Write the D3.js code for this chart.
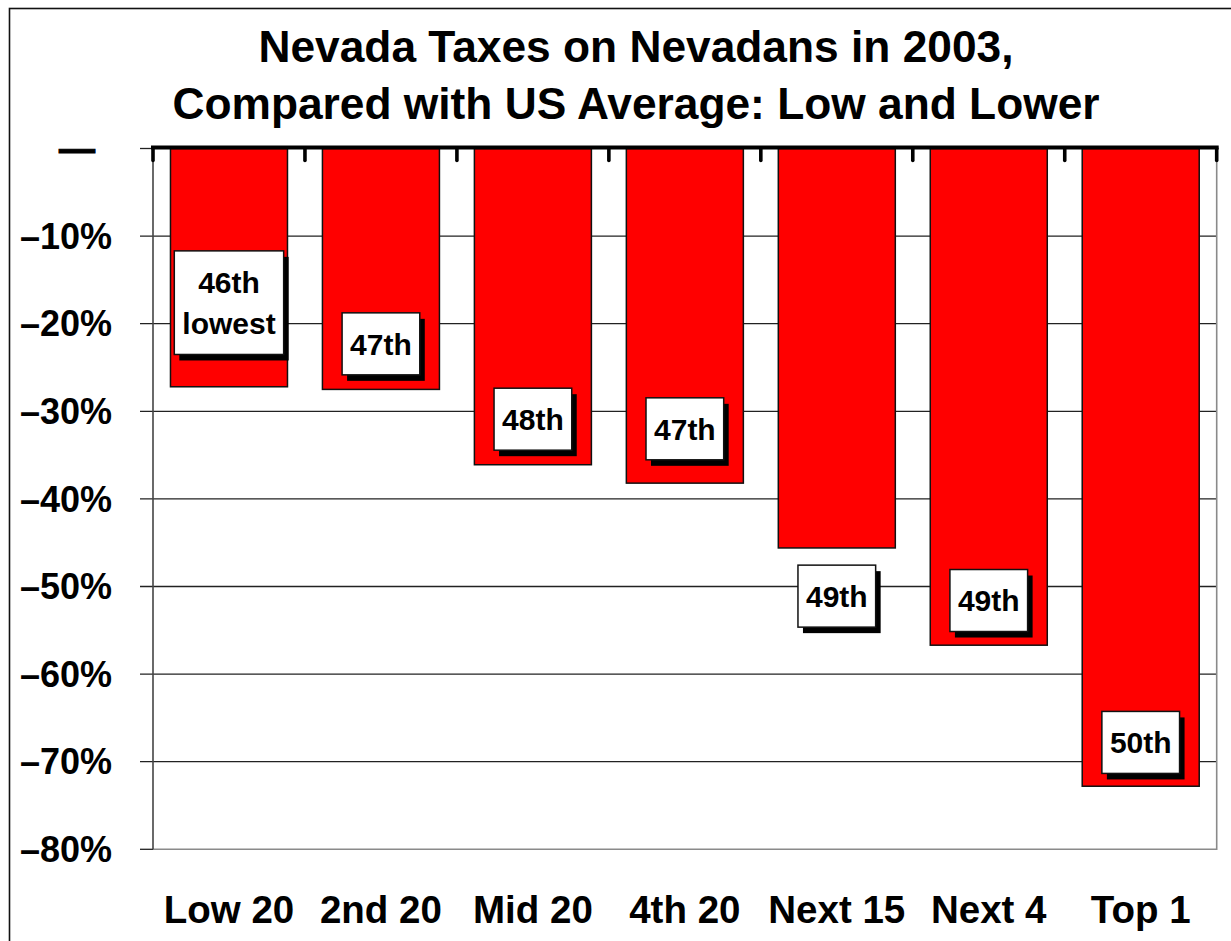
<!DOCTYPE html>
<html>
<head>
<meta charset="utf-8">
<script src="https://cdn.jsdelivr.net/npm/d3@7"></script>
<style>
  html, body { margin: 0; padding: 0; background: #fff; }
  svg { display: block; font-family: "Liberation Sans", Arial, sans-serif; }
</style>
</head>
<body>
<svg id="chart" width="1231" height="941"></svg>
<script>
// Income groups and how far Nevada's taxes on each fall below the US average (%)
const categories = ["Low 20", "2nd 20", "Mid 20", "4th 20", "Next 15", "Next 4", "Top 1"];
const values = [-27.2, -27.5, -36.1, -38.2, -45.6, -56.7, -72.8];
// State rank for each group, and where (in % units) its callout sits
const ranks = [["46th", "lowest"], ["47th"], ["48th"], ["47th"], ["49th"], ["49th"], ["50th"]];
const rankAt = [-17.6, -22.3, -30.9, -32.0, -51.1, -51.6, -67.8];
const yTicks = [0, -10, -20, -30, -40, -50, -60, -70, -80];
const titleLines = ["Nevada Taxes on Nevadans in 2003,", "Compared with US Average: Low and Lower"];

const svg = d3.select("#chart");
const plot = { left: 153, right: 1216.7, top: 148.5, bottom: 849.3 };

const x = d3.scaleBand()
  .domain(categories)
  .range([plot.left, plot.right])
  .paddingInner(0.23)
  .paddingOuter(0.115);

const y = d3.scaleLinear()
  .domain([0, -80])
  .range([plot.top, plot.bottom]);

// Outer frame
svg.append("rect")
  .attr("x", 9.5).attr("y", 8.5)
  .attr("width", 1260).attr("height", 980)
  .attr("fill", "none").attr("stroke", "#111").attr("stroke-width", 1.6);

// Title
svg.append("g").selectAll("text")
  .data(titleLines)
  .join("text")
  .attr("x", 636)
  .attr("y", (d, i) => 61.5 + i * 57)
  .attr("text-anchor", "middle")
  .attr("font-size", 44.3)
  .attr("font-weight", "bold")
  .attr("fill", "#000")
  .text(d => d);

// Gridlines with short ticks out to the left
svg.append("g").selectAll("line")
  .data(yTicks.filter(d => d !== 0 && d !== -80))
  .join("line")
  .attr("x1", plot.left - 13).attr("x2", plot.right)
  .attr("y1", d => y(d)).attr("y2", d => y(d))
  .attr("stroke", "#222").attr("stroke-width", 1.3);

// Plot area border (right and bottom in grey)
svg.append("path")
  .attr("d", `M${plot.right},${plot.top} V${plot.bottom} H${plot.left}`)
  .attr("fill", "none").attr("stroke", "#8a8a8a").attr("stroke-width", 1.6);
svg.append("line")
  .attr("x1", plot.left - 13).attr("x2", plot.left)
  .attr("y1", y(-80)).attr("y2", y(-80))
  .attr("stroke", "#222").attr("stroke-width", 1.3);
svg.append("line")
  .attr("x1", plot.left - 13).attr("x2", plot.left)
  .attr("y1", y(0)).attr("y2", y(0))
  .attr("stroke", "#222").attr("stroke-width", 1.3);
svg.append("line")
  .attr("x1", plot.left).attr("x2", plot.left)
  .attr("y1", plot.top).attr("y2", plot.bottom)
  .attr("stroke", "#444").attr("stroke-width", 1.6);

// Y-axis labels
svg.append("g").selectAll("text")
  .data(yTicks)
  .join("text")
  .attr("x", d => d === 0 ? 95 : 112)
  .attr("y", d => y(d))
  .attr("dy", "0.35em")
  .attr("text-anchor", "end")
  .attr("font-size", 36)
  .attr("font-weight", "bold")
  .attr("fill", "#000")
  .attr("stroke", d => d === 0 ? "#000" : "none")
  .attr("stroke-width", 1)
  .text(d => d === 0 ? "\u2014" : "\u2013" + Math.abs(d) + "%");

// Bars
svg.append("g").selectAll("rect")
  .data(values)
  .join("rect")
  .attr("x", (d, i) => x(categories[i]))
  .attr("y", y(0))
  .attr("width", x.bandwidth())
  .attr("height", d => y(d) - y(0))
  .attr("fill", "#ff0000")
  .attr("stroke", "#111")
  .attr("stroke-width", 1.5);

// Zero line with tick marks hanging at each category boundary
svg.append("line")
  .attr("x1", plot.left - 2).attr("x2", plot.right + 2)
  .attr("y1", y(0) - 1).attr("y2", y(0) - 1)
  .attr("stroke", "#000").attr("stroke-width", 4);
const bounds = d3.range(categories.length + 1).map(i => plot.left + i * x.step());
svg.append("g").selectAll("line")
  .data(bounds)
  .join("line")
  .attr("x1", d => d).attr("x2", d => d)
  .attr("y1", y(0)).attr("y2", y(0) + 12)
  .attr("stroke", "#000").attr("stroke-width", 3.6)
  .attr("stroke-linecap", "round");

// Category labels
svg.append("g").selectAll("text")
  .data(categories)
  .join("text")
  .attr("x", d => x(d) + x.bandwidth() / 2)
  .attr("y", 922.5)
  .attr("text-anchor", "middle")
  .attr("font-size", 38.5)
  .attr("font-weight", "bold")
  .attr("fill", "#000")
  .text(d => d);

// Rank callouts: white box with a black drop shadow
const lineGap = 41.6;
const callouts = svg.append("g").selectAll("g")
  .data(ranks)
  .join("g")
  .attr("transform", (d, i) => `translate(${x(categories[i]) + x.bandwidth() / 2},${y(rankAt[i])})`);

callouts.each(function(lines) {
  const g = d3.select(this);
  const shadow = g.append("rect").attr("fill", "#000");
  const box = g.append("rect").attr("fill", "#fff").attr("stroke", "#111").attr("stroke-width", 1.5);
  const texts = g.selectAll("text")
    .data(lines)
    .join("text")
    .attr("x", 0)
    .attr("y", (t, j) => (j - (lines.length - 1) / 2) * lineGap)
    .attr("dy", "0.36em")
    .attr("text-anchor", "middle")
    .attr("font-size", 30)
    .attr("font-weight", "bold")
    .attr("fill", "#000")
    .text(t => t);
  let w = 0;
  texts.each(function() { w = Math.max(w, this.getComputedTextLength()); });
  const bw = w + 16;
  const bh = 62 + (lines.length - 1) * lineGap;
  box.attr("x", -bw / 2).attr("y", -bh / 2).attr("width", bw).attr("height", bh);
  shadow.attr("x", -bw / 2 + 5).attr("y", -bh / 2 + 6).attr("width", bw).attr("height", bh);
});
</script>
</body>
</html>
